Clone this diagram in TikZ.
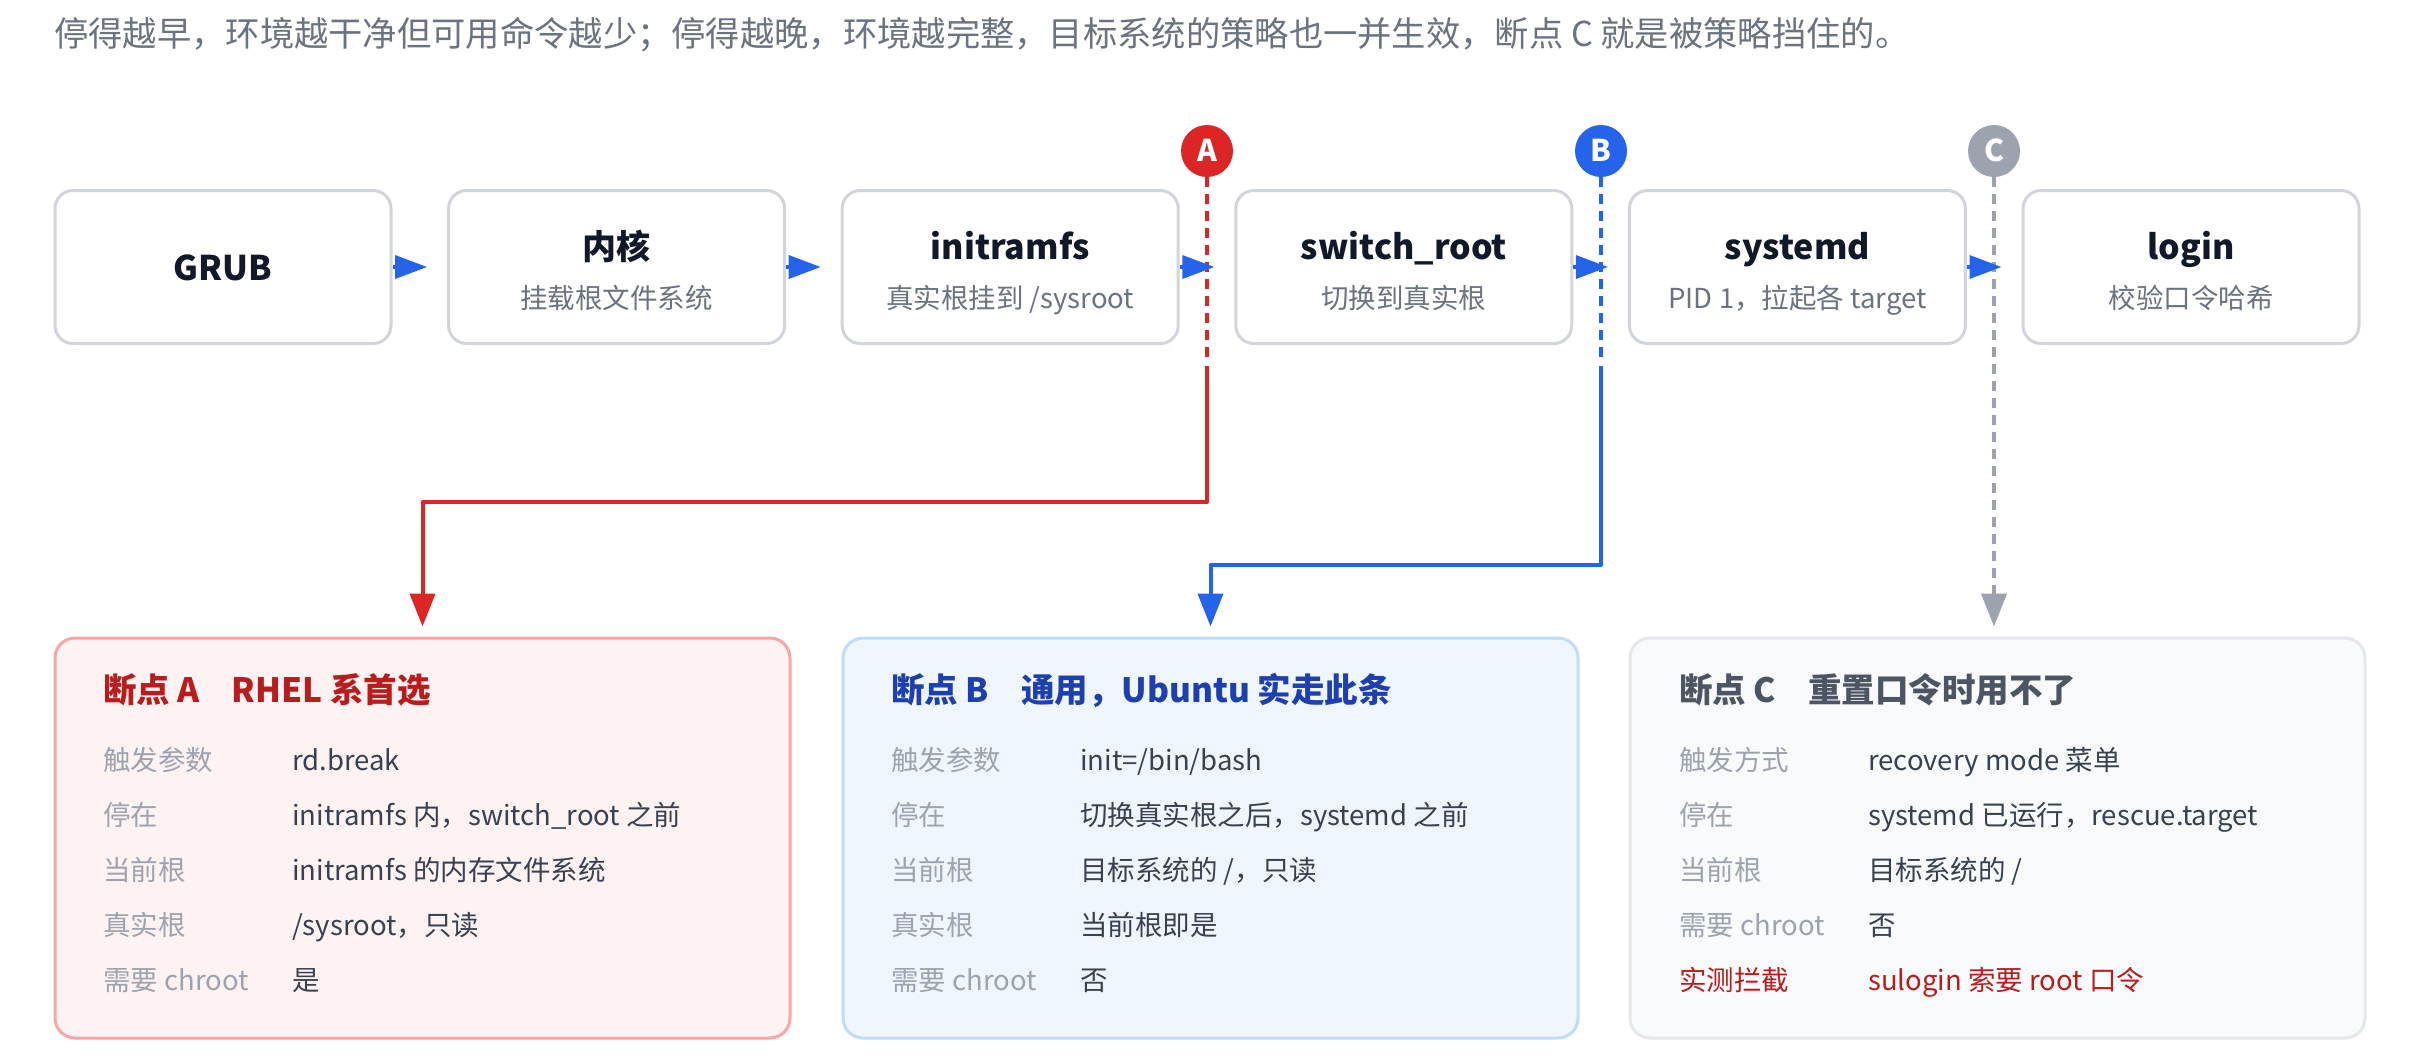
\documentclass[tikz,border=0pt]{standalone}
\usepackage{fontspec}
\setmainfont{Noto Sans CJK SC}
\usetikzlibrary{arrows.meta}

\definecolor{leadgray}{HTML}{6B7280}
\definecolor{boxline}{HTML}{D1D5DB}
\definecolor{ink}{HTML}{111827}
\definecolor{flowblue}{HTML}{2563EB}
\definecolor{pinred}{HTML}{DC2626}
\definecolor{pingray}{HTML}{9CA3AF}
\definecolor{afill}{HTML}{FEF2F2}
\definecolor{aline}{HTML}{FCA5A5}
\definecolor{ahead}{HTML}{B91C1C}
\definecolor{bfill}{HTML}{EFF6FF}
\definecolor{bline}{HTML}{BFDBFE}
\definecolor{bhead}{HTML}{1E40AF}
\definecolor{cfill}{HTML}{F9FAFB}
\definecolor{cline}{HTML}{E5E7EB}
\definecolor{chead}{HTML}{4B5563}
\definecolor{rowkeygray}{HTML}{9CA3AF}
\definecolor{rowvalink}{HTML}{374151}

\begin{document}
\begin{tikzpicture}[x=1pt,y=-1pt,line join=round,
  stage/.style={draw=boxline,line width=3pt,fill=white,rounded corners=18pt,minimum width=336pt,minimum height=153pt,inner sep=0pt},
  stagetitle/.style={inner sep=0pt,text=ink,font=\fontsize{34pt}{40pt}\selectfont\bfseries,text height=28pt,text depth=2pt},
  stagesub/.style={inner sep=0pt,text=leadgray,font=\fontsize{27.5pt}{33pt}\selectfont,text height=22.5pt,text depth=1.5pt},
  flow/.style={line width=3.5pt,draw=flowblue,-{Triangle[length=32pt,width=23pt]},shorten >=20pt},
  pin/.style={circle,minimum size=52pt,inner sep=0pt,text=white,font=\fontsize{30pt}{30pt}\selectfont\bfseries,text height=21pt,text depth=0pt},
  tap/.style={line width=4pt,dash pattern=on 10pt off 7pt},
  lead/.style={line width=4pt,-{Triangle[length=33pt,width=25pt]},shorten >=10pt},
  card/.style={line width=3pt,rounded corners=20pt,minimum width=735pt,minimum height=400pt,inner sep=0pt},
  cardhead/.style={anchor=west,inner sep=0pt,font=\fontsize{33.5pt}{40pt}\selectfont\bfseries,text height=27pt,text depth=2pt},
  rowkey/.style={anchor=west,inner sep=0pt,text=rowkeygray,font=\fontsize{27.5pt}{33pt}\selectfont,text height=22.5pt,text depth=1.5pt},
  rowval/.style={anchor=west,inner sep=0pt,text=rowvalink,font=\fontsize{27.5pt}{33pt}\selectfont,text height=22.5pt,text depth=1.5pt}]
\fill[white](0,0) rectangle (2411,1061);
\useasboundingbox (0,0) rectangle (2411,1061);

% lead-in line
\node[anchor=west,inner sep=0pt,text=leadgray,font=\fontsize{34.3pt}{40pt}\selectfont,text height=27.5pt,text depth=2pt] (lede) at (54,34) {停得越早，环境越干净但可用命令越少；停得越晚，环境越完整，目标系统的策略也一并生效，断点 C 就是被策略挡住的。};

% boot chain
\node[stage] (grub) at (223,267) {};
\node[stage] (kernel) at (616.6,267) {};
\node[stage] (initrd) at (1010.2,267) {};
\node[stage] (swroot) at (1403.8,267) {};
\node[stage] (sysd) at (1797.4,267) {};
\node[stage] (login) at (2191,267) {};
\node[stagetitle] (grubt) at (223,267) {GRUB};
\node[stagetitle] (kernelt) at (616.6,246) {内核};
\node[stagesub] (kernels) at (616.6,298) {挂载根文件系统};
\node[stagetitle] (initrdt) at (1010.2,246) {initramfs};
\node[stagesub] (initrds) at (1010.2,298) {真实根挂到 /sysroot};
\node[stagetitle] (swroott) at (1403.8,246) {switch\_root};
\node[stagesub] (swroots) at (1403.8,298) {切换到真实根};
\node[stagetitle] (sysdt) at (1797.4,246) {systemd};
\node[stagesub] (sysds) at (1797.4,298) {PID 1，拉起各 target};
\node[stagetitle] (logint) at (2191,246) {login};
\node[stagesub] (logins) at (2191,298) {校验口令哈希};

% break cards
\node[card,draw=aline,fill=afill] (carda) at (422.5,838) {};
\node[card,draw=bline,fill=bfill] (cardb) at (1210.5,838) {};
\node[card,draw=cline,fill=cfill] (cardc) at (1997.5,838) {};

% break points
\node[pin,fill=pinred] (pa) at (1207,151) {A};
\node[pin,fill=flowblue] (pb) at (1601,151) {B};
\node[pin,fill=pingray] (pc) at (1994,151) {C};
\coordinate (aend) at (1207,360);
\coordinate (astart) at (1207,366);
\coordinate (aturn) at (1207,502);
\coordinate (bend) at (1601,360);
\coordinate (bstart) at (1601,366);
\coordinate (bturn) at (1601,565);
\draw[tap,draw=pinred] (pa) -- (aend);
\draw[lead,draw=pinred] (astart) -- (aturn) -| (carda.north);
\draw[tap,draw=flowblue] (pb) -- (bend);
\draw[lead,draw=flowblue] (bstart) -- (bturn) -| (cardb.north);
\draw[tap,lead,draw=pingray] (pc) -- (pc |- cardc.north);

\draw[flow] (grub) -- (kernel);
\draw[flow] (kernel) -- (initrd);
\draw[flow] (initrd) -- (swroot);
\draw[flow] (swroot) -- (sysd);
\draw[flow] (sysd) -- (login);

% card A
\node[cardhead,text=ahead] (ha) at (103,690) {断点 A\hspace{32pt}RHEL 系首选};
\node[rowkey] (ka1) at (103,760) {触发参数};
\node[rowval] (va1) at (292,760) {rd.break};
\node[rowkey] (ka2) at (103,815) {停在};
\node[rowval] (va2) at (292,815) {initramfs 内，switch\_root 之前};
\node[rowkey] (ka3) at (103,870) {当前根};
\node[rowval] (va3) at (292,870) {initramfs 的内存文件系统};
\node[rowkey] (ka4) at (103,925) {真实根};
\node[rowval] (va4) at (292,925) {/sysroot，只读};
\node[rowkey] (ka5) at (103,980) {需要 chroot};
\node[rowval] (va5) at (292,980) {是};

% card B
\node[cardhead,text=bhead] (hb) at (891,690) {断点 B\hspace{32pt}通用，Ubuntu 实走此条};
\node[rowkey] (kb1) at (891,760) {触发参数};
\node[rowval] (vb1) at (1080,760) {init=/bin/bash};
\node[rowkey] (kb2) at (891,815) {停在};
\node[rowval] (vb2) at (1080,815) {切换真实根之后，systemd 之前};
\node[rowkey] (kb3) at (891,870) {当前根};
\node[rowval] (vb3) at (1080,870) {目标系统的 /，只读};
\node[rowkey] (kb4) at (891,925) {真实根};
\node[rowval] (vb4) at (1080,925) {当前根即是};
\node[rowkey] (kb5) at (891,980) {需要 chroot};
\node[rowval] (vb5) at (1080,980) {否};

% card C
\node[cardhead,text=chead] (hc) at (1679,690) {断点 C\hspace{32pt}重置口令时用不了};
\node[rowkey] (kc1) at (1679,760) {触发方式};
\node[rowval] (vc1) at (1868,760) {recovery mode 菜单};
\node[rowkey] (kc2) at (1679,815) {停在};
\node[rowval] (vc2) at (1868,815) {systemd 已运行，rescue.target};
\node[rowkey] (kc3) at (1679,870) {当前根};
\node[rowval] (vc3) at (1868,870) {目标系统的 /};
\node[rowkey] (kc4) at (1679,925) {需要 chroot};
\node[rowval] (vc4) at (1868,925) {否};
\node[rowkey,text=ahead] (kc5) at (1679,980) {实测拦截};
\node[rowval,text=ahead] (vc5) at (1868,980) {sulogin 索要 root 口令};
\end{tikzpicture}
\end{document}
